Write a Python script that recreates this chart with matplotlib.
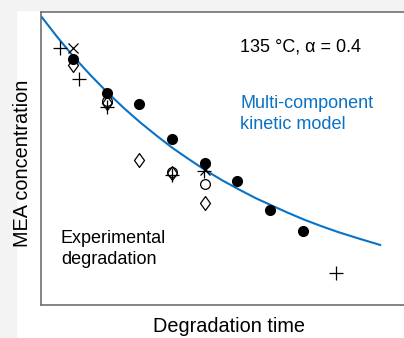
import matplotlib
matplotlib.use("Agg")
import matplotlib.pyplot as plt
from matplotlib.patches import Rectangle

plt.rcParams['font.family'] = ['Liberation Sans', 'DejaVu Sans']

# Experimental points (time, MEA concentration), arbitrary units
filled_t = [1.06, 2.18, 3.24, 4.33, 5.42, 6.48, 7.57, 8.66]
filled_c = [0.840, 0.724, 0.686, 0.567, 0.485, 0.423, 0.324, 0.253]

plus_t = [0.63, 1.26, 2.18, 4.33, 5.39, 9.75]
plus_c = [0.877, 0.771, 0.676, 0.444, 0.457, 0.109]

cross_t = [1.06, 5.42]
cross_c = [0.877, 0.461]

diamond_t = [1.06, 2.18, 3.24, 4.33, 5.42]
diamond_c = [0.819, 0.689, 0.495, 0.451, 0.348]

open_t = [2.18, 4.33, 5.42]
open_c = [0.696, 0.454, 0.413]

# Multi-component kinetic model curve
model_t = [0, 0.55, 1.09, 1.64, 2.18, 2.73, 3.27, 3.82, 4.36, 4.91, 5.45, 6.0,
           6.55, 7.09, 7.64, 8.18, 8.73, 9.27, 9.82, 10.5, 11.21]
model_c = [0.986, 0.913, 0.846, 0.784, 0.727, 0.673, 0.624, 0.578, 0.535, 0.496,
           0.459, 0.425, 0.394, 0.365, 0.339, 0.314, 0.290, 0.269, 0.249, 0.227, 0.205]

blue = '#0a72c4'
diamond = [(0, 1), (0.72, 0), (0, -1), (-0.72, 0), (0, 1)]

fig = plt.figure(figsize=(4.04, 3.38), dpi=100, facecolor='white')
# grey strips around the picture
fig.patches.append(Rectangle((0, 0), 16 / 404, 1, transform=fig.transFigure,
                             color='#f3f3f3', zorder=-10))
fig.patches.append(Rectangle((0, 1 - 10 / 338), 1, 10 / 338, transform=fig.transFigure,
                             color='#f3f3f3', zorder=-10))

ax = fig.add_axes([41 / 404, 1 - 305 / 338, 1.05, 293 / 338])
ax.set_xlim(0, 12 * 1.05 * 404 / 363)
ax.set_ylim(0, 1)
ax.set_facecolor('none')
for s in ax.spines.values():
    s.set_color('#707070')
    s.set_linewidth(1.2)
ax.set_xticks([])
ax.set_yticks([])

ax.plot(model_t, model_c, color=blue, lw=1.5, zorder=2)

ax.plot(open_t, open_c, 'o', ms=7, mfc='white', mec='black', mew=0.9, zorder=3)
ax.plot(diamond_t, diamond_c, marker=diamond, ls='none', ms=10, mfc='none', mec='black',
        mew=0.9, zorder=4)
ax.plot(plus_t, plus_c, '+', ms=10, color='black', mew=0.9, zorder=5)
ax.plot(cross_t, cross_c, 'x', ms=7, color='black', mew=0.9, zorder=5)
ax.plot(filled_t, filled_c, 'o', ms=7, color='black', zorder=6)

fs = 13
fig.text(240 / 404, 1 - 47 / 338, '135 °C, α = 0.4', fontsize=fs, va='center', ha='left')
fig.text(240 / 404, 1 - 114 / 338, 'Multi-component\nkinetic model', fontsize=fs,
         color=blue, va='center', ha='left', linespacing=1.3)
fig.text(61 / 404, 1 - 249 / 338, 'Experimental\ndegradation', fontsize=fs,
         va='center', ha='left', linespacing=1.3)
fig.text(229 / 404, 1 - 327 / 338, 'Degradation time', fontsize=14.3, ha='center', va='center')
fig.text(23 / 404, 1 - 163 / 338, 'MEA concentration', fontsize=14.3, ha='center',
         va='center', rotation=90)

fig.savefig('out.png', dpi=100, facecolor=fig.get_facecolor())
